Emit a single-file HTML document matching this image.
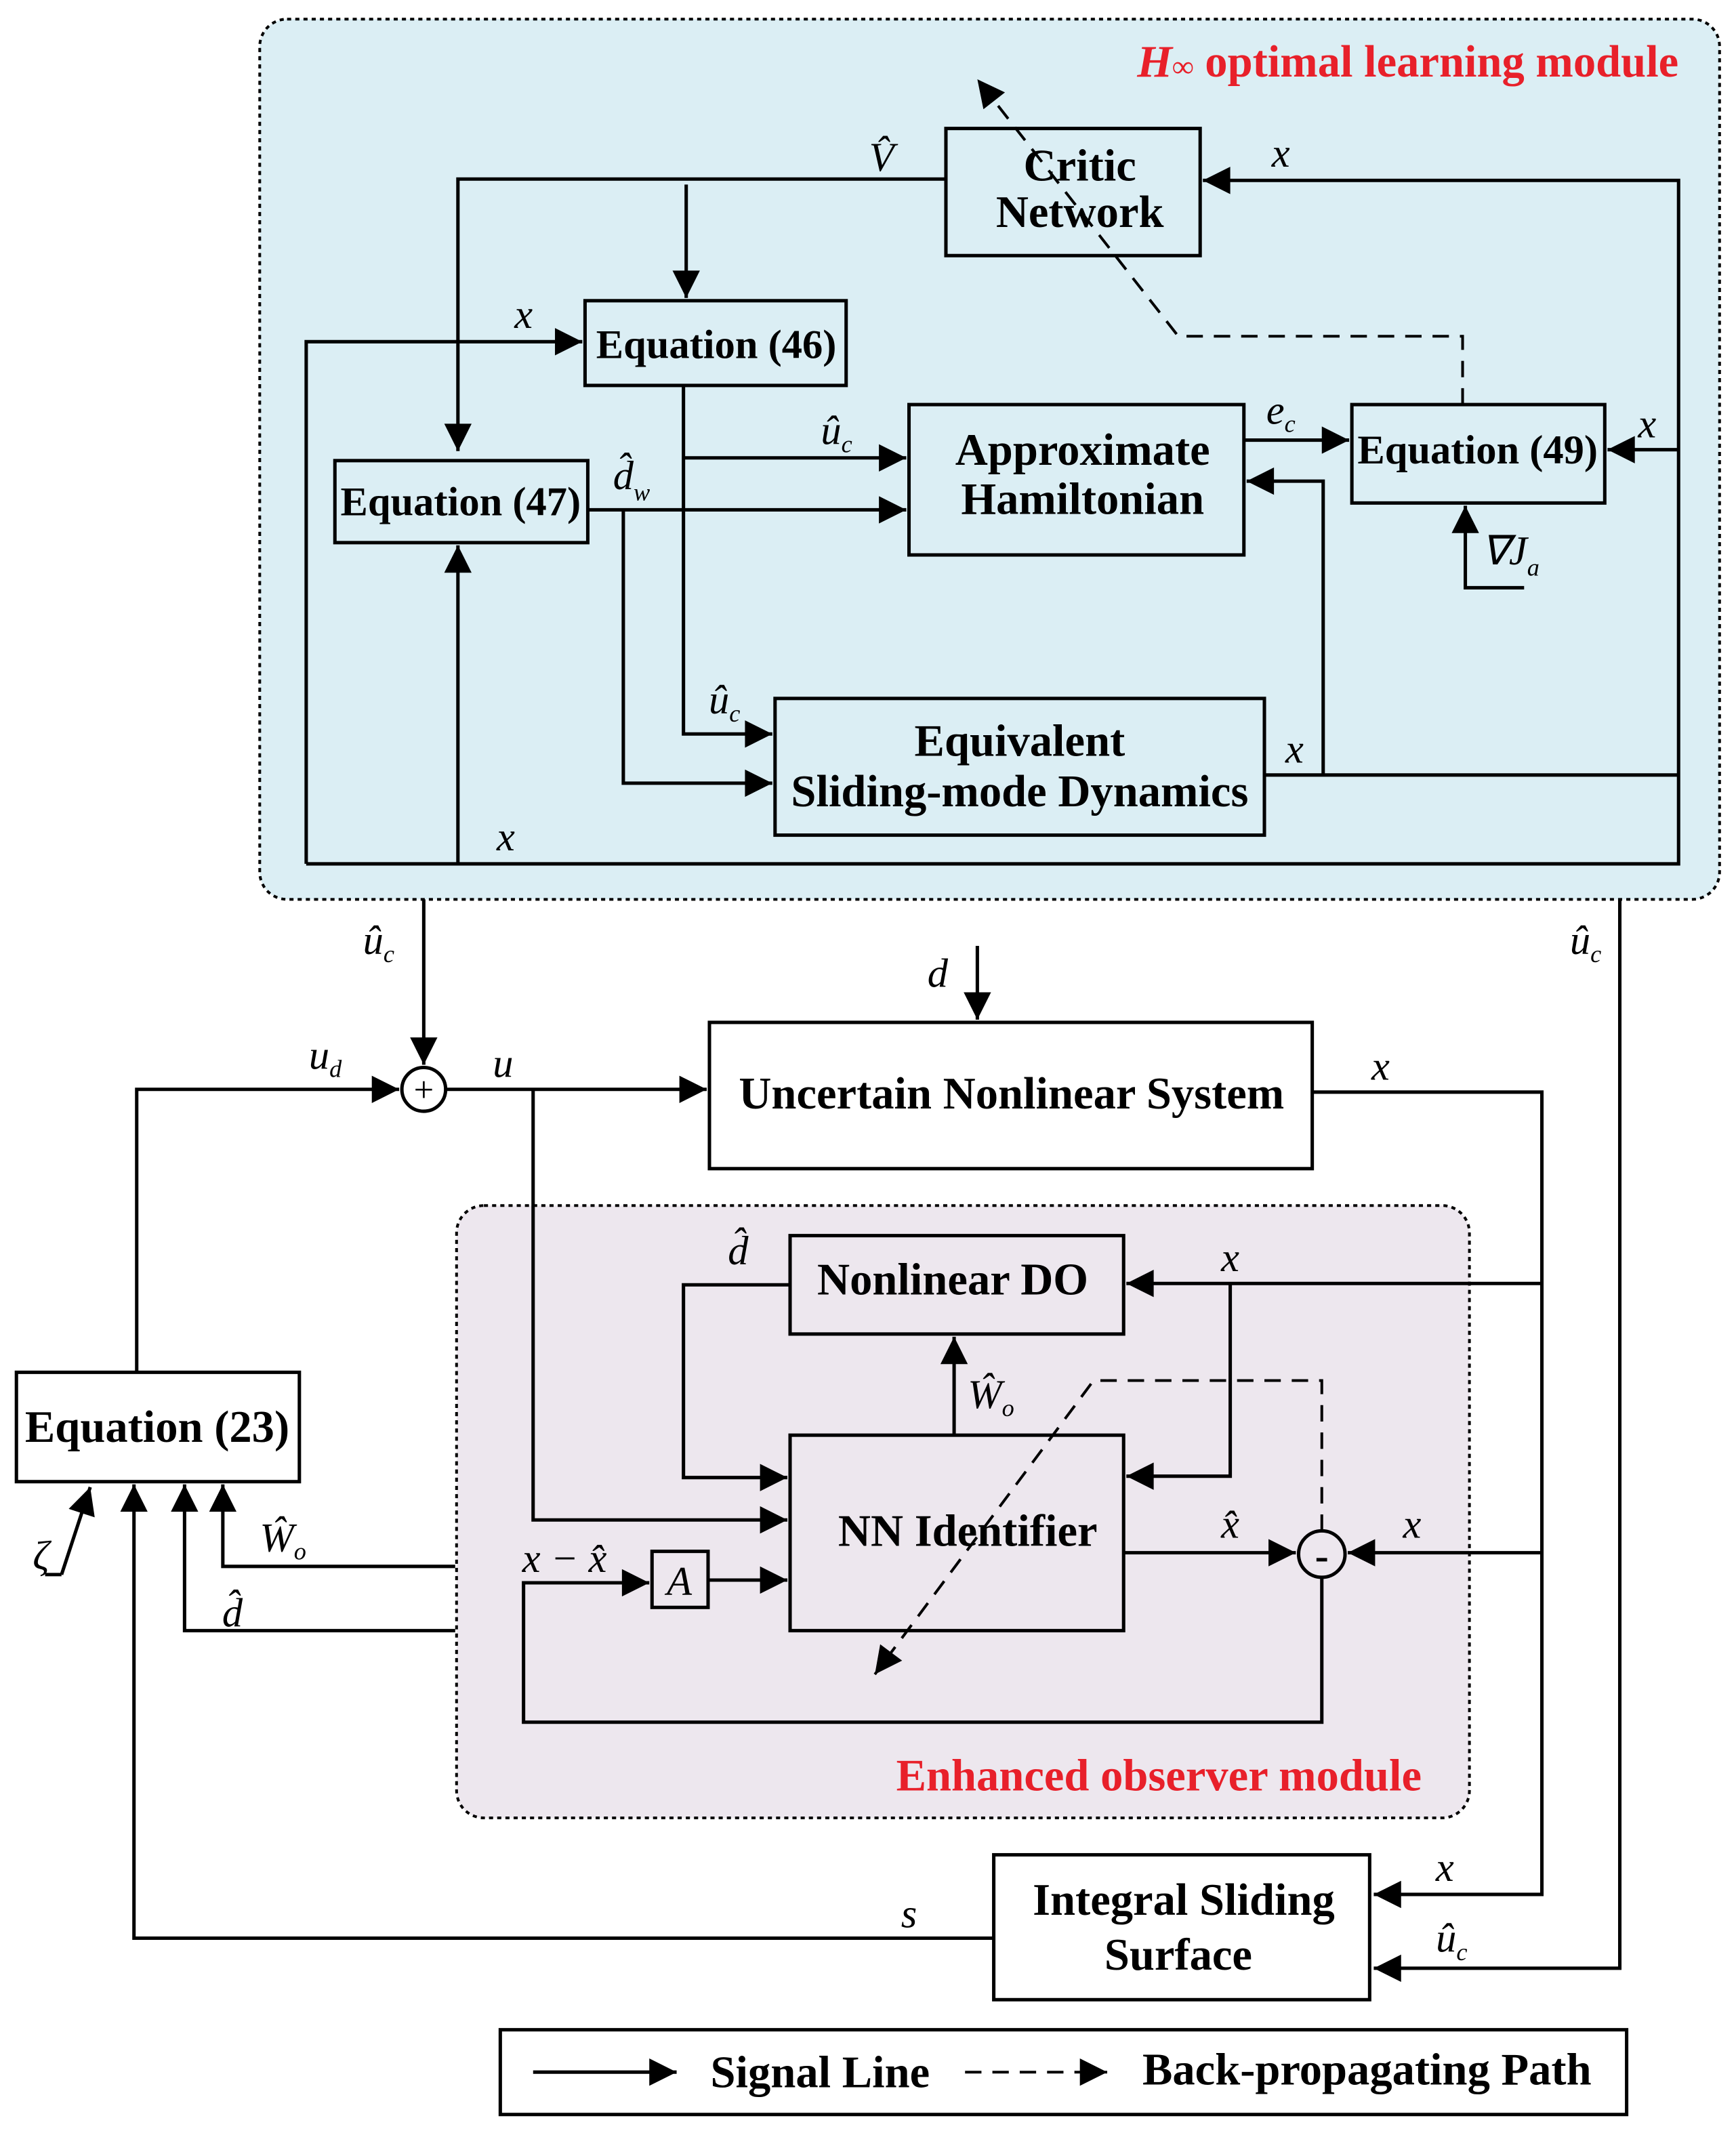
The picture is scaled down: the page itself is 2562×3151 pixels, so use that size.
<!DOCTYPE html>
<html><head><meta charset="utf-8"><style>html,body{margin:0;padding:0;background:#fff}svg{display:block}</style></head>
<body>
<svg width="2562" height="3151" viewBox="0 0 1270 1562" xmlns="http://www.w3.org/2000/svg" font-family="Liberation Serif, serif">
<defs>
<marker id="b" viewBox="0 0 10 10" refX="10" refY="5" markerWidth="22" markerHeight="20" orient="auto" markerUnits="userSpaceOnUse"><path d="M0,0 L10,5 L0,10 z" fill="#000"/></marker>
</defs>
<rect x="190" y="14" width="1068" height="644" rx="20" fill="#dbeef4" stroke="#000" stroke-width="2" stroke-dasharray="3,3"/>
<rect x="334" y="882" width="741" height="448" rx="20" fill="#ede7ee" stroke="#000" stroke-width="2" stroke-dasharray="3,3"/>
<g font-weight="bold" font-size="33" fill="#e8202a" text-anchor="end">
<text x="1228" y="56"><tspan font-style="italic">H</tspan><tspan font-size="22">∞</tspan> optimal learning module</text>
<text x="1040" y="1310">Enhanced observer module</text>
</g>
<g fill="none" stroke="#000" stroke-width="2.5">
<rect x="692" y="94" width="186" height="93"/>
<rect x="428" y="220" width="191" height="62"/>
<rect x="245" y="337" width="185" height="60"/>
<rect x="665" y="296" width="245" height="110"/>
<rect x="989" y="296" width="185" height="72"/>
<rect x="567" y="511" width="358" height="100"/>
<rect x="519" y="748" width="441" height="107"/>
<rect x="727" y="1357" width="275" height="106"/>
<rect x="12" y="1004" width="207" height="80"/>
<rect x="578" y="904" width="244" height="72"/>
<rect x="578" y="1050" width="244" height="143"/>
<rect x="477" y="1135" width="41" height="41"/>
<rect x="366" y="1485" width="824" height="62"/>
<circle cx="310" cy="797" r="16"/>
<circle cx="967" cy="1137" r="17"/>
</g>
<g fill="none" stroke="#000" stroke-width="2.5">
<path d="M692,131 H335 V330" marker-end="url(#b)"/>
<path d="M502,135 V218" marker-end="url(#b)"/>
<path d="M224,632 V250 H426" marker-end="url(#b)"/>
<path d="M224,632 H1228 V132 H880" marker-end="url(#b)"/>
<path d="M335,632 V399" marker-end="url(#b)"/>
<path d="M1228,329 H1176" marker-end="url(#b)"/>
<path d="M500,282 V537 H565" marker-end="url(#b)"/>
<path d="M500,335 H663" marker-end="url(#b)"/>
<path d="M430,373 H663" marker-end="url(#b)"/>
<path d="M456,373 V573 H565" marker-end="url(#b)"/>
<path d="M910,322 H987" marker-end="url(#b)"/>
<path d="M925,567 H1228"/>
<path d="M968,567 V352 H912" marker-end="url(#b)"/>
<path d="M1115,430 H1072 V370" marker-end="url(#b)"/>
<path d="M310,658 V779" marker-end="url(#b)"/>
<path d="M100,1004 V797 H292" marker-end="url(#b)"/>
<path d="M326,797 H517" marker-end="url(#b)"/>
<path d="M715,692 V746" marker-end="url(#b)"/>
<path d="M960,799 H1128 V1386 H1005" marker-end="url(#b)"/>
<path d="M1185,658 V1440 H1005" marker-end="url(#b)"/>
<path d="M727,1418 H98 V1086" marker-end="url(#b)"/>
<path d="M45,1152 L66,1088" marker-end="url(#b)"/>
<path d="M33,1152 H45"/>
<path d="M333,1146 H163 V1086" marker-end="url(#b)"/>
<path d="M333,1193 H135 V1086" marker-end="url(#b)"/>
<path d="M1128,939 H824" marker-end="url(#b)"/>
<path d="M900,939 V1080 H824" marker-end="url(#b)"/>
<path d="M578,940 H500 V1081 H576" marker-end="url(#b)"/>
<path d="M698,1050 V978" marker-end="url(#b)"/>
<path d="M390,797 V1112 H576" marker-end="url(#b)"/>
<path d="M822,1136 H948" marker-end="url(#b)"/>
<path d="M1128,1136 H986" marker-end="url(#b)"/>
<path d="M967,1154 V1260 H383 V1158 H475" marker-end="url(#b)"/>
<path d="M518,1156 H576" marker-end="url(#b)"/>
<path d="M390,1516 H495" marker-end="url(#b)"/>
</g>
<g fill="none" stroke="#000" stroke-width="2" stroke-dasharray="12,8">
<path d="M1070,296 V246 H862 L715,58" marker-end="url(#b)"/>
<path d="M967,1120 V1010 H800 L640,1225" marker-end="url(#b)"/>
<path d="M706,1516 H810" marker-end="url(#b)"/>
</g>
<g font-weight="bold" font-size="33" text-anchor="middle" fill="#000">
<text x="790" y="132">Critic</text><text x="790" y="166">Network</text>
<text x="524" y="262" font-size="30">Equation (46)</text>
<text x="337" y="377" font-size="30">Equation (47)</text>
<text x="792" y="340">Approximate</text><text x="792" y="376">Hamiltonian</text>
<text x="1081" y="339" font-size="30">Equation (49)</text>
<text x="746" y="553">Equivalent</text><text x="746" y="590">Sliding-mode Dynamics</text>
<text x="740" y="811">Uncertain Nonlinear System</text>
<text x="866" y="1401">Integral Sliding</text><text x="862" y="1441">Surface</text>
<text x="115" y="1055">Equation (23)</text>
<text x="697" y="947">Nonlinear DO</text>
<text x="708" y="1131">NN Identifier</text>
<text x="600" y="1527">Signal Line</text>
<text x="1000" y="1525">Back-propagating Path</text>
<text x="310" y="806" font-weight="normal" font-size="26">+</text>
<text x="967" y="1148" font-size="30">-</text>
</g>
<g font-style="italic" font-size="30" fill="#000" text-anchor="middle">
<text x="645" y="125">V̂</text>
<text x="383" y="240">x</text>
<text x="937" y="122">x</text>
<text x="370" y="622">x</text>
<text x="1205" y="320">x</text>
<text x="612" y="325">û<tspan font-size="18" dy="6">c</tspan></text>
<text x="530" y="522">û<tspan font-size="18" dy="6">c</tspan></text>
<text x="462" y="358">d̂<tspan font-size="18" dy="8">w</tspan></text>
<text x="937" y="310">e<tspan font-size="18" dy="6">c</tspan></text>
<text x="947" y="558">x</text>
<text x="1105" y="413">∇J<tspan font-size="18" dy="8">a</tspan></text>
<text x="277" y="698">û<tspan font-size="18" dy="6">c</tspan></text>
<text x="1160" y="698">û<tspan font-size="18" dy="6">c</tspan></text>
<text x="238" y="782">u<tspan font-size="18" dy="6">d</tspan></text>
<text x="368" y="788">u</text>
<text x="686" y="722">d</text>
<text x="1010" y="790">x</text>
<text x="1057" y="1376">x</text>
<text x="1062" y="1428">û<tspan font-size="18" dy="6">c</tspan></text>
<text x="665" y="1410">s</text>
<text x="30" y="1148">ζ</text>
<text x="207" y="1135">Ŵ<tspan font-size="18" dy="6">o</tspan></text>
<text x="170" y="1190">d̂</text>
<text x="540" y="925">d̂</text>
<text x="900" y="930">x</text>
<text x="725" y="1030">Ŵ<tspan font-size="18" dy="6">o</tspan></text>
<text x="900" y="1125">x̂</text>
<text x="1033" y="1125">x</text>
<text x="413" y="1150">x − x̂</text>
<text x="497" y="1167">A</text>
</g>
</svg>
</body></html>
